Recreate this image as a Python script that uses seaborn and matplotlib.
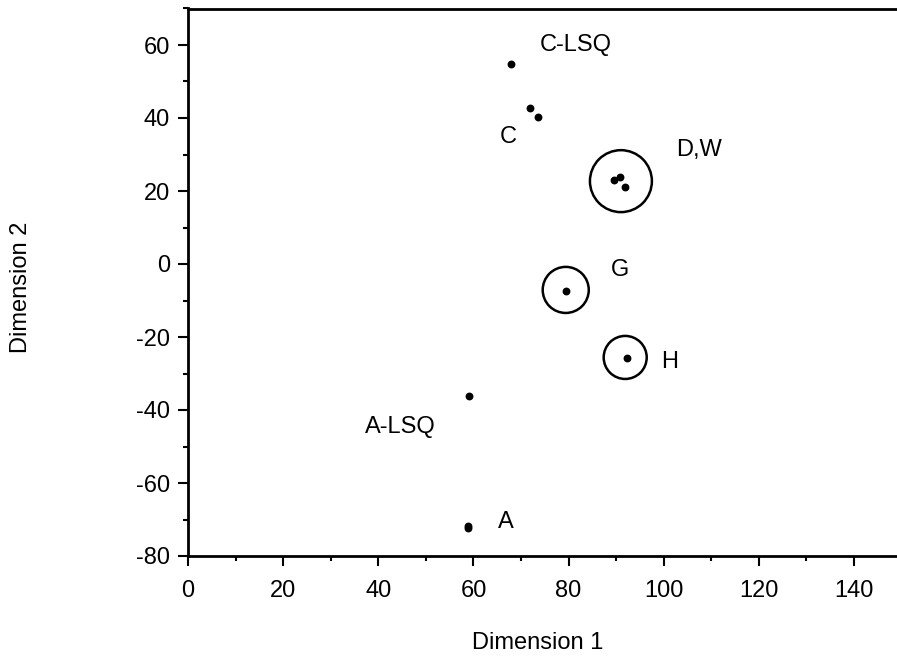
import numpy as np
import pandas as pd
import seaborn as sns
import matplotlib
matplotlib.use("Agg")
import matplotlib.pyplot as plt
from matplotlib.ticker import MultipleLocator

# Diem do (Dimension 1, Dimension 2)
dim1 = [68.0, 71.9, 73.6, 89.6, 90.8, 91.9, 79.4, 92.2, 59.1, 58.9, 58.9]
dim2 = [54.8, 42.8, 40.4, 23.0, 23.9, 21.2, -7.3, -25.8, -36.2, -71.8, -72.3]

# Vong tron bao quanh cac nhom
ring_x = [91.0, 79.4, 91.9]
ring_y = [22.7, -7.1, -25.6]
ring_size = [1990, 1100, 960]

# Nhan cua cac nhom
labels = ["C-LSQ", "C", "D,W", "G", "H", "A-LSQ", "A"]
label_x = [74.0, 65.6, 102.5, 88.9, 99.4, 37.2, 65.2]
label_y = [60.0, 34.8, 31.2, -1.6, -26.8, -44.6, -70.6]

x_ticks = [0, 20, 40, 60, 80, 100, 120, 140]
y_ticks = [-80, -60, -40, -20, 0, 20, 40, 60]

sns.set_style("ticks")
plt.rcParams["font.family"] = ["Liberation Sans", "DejaVu Sans"]
plt.rcParams["axes.unicode_minus"] = False
plt.rcParams["text.color"] = "black"
plt.rcParams["axes.labelcolor"] = "black"
plt.rcParams["xtick.color"] = "black"
plt.rcParams["ytick.color"] = "black"

points = pd.DataFrame({"dim1": dim1, "dim2": dim2})
rings = pd.DataFrame({"x": ring_x, "y": ring_y, "s": ring_size})

fig = plt.figure(figsize=(8.97, 6.63), dpi=100)
ax = fig.add_axes([188 / 897, 107 / 663, 713.6 / 897, 547.5 / 663])

sns.scatterplot(data=points, x="dim1", y="dim2", ax=ax, color="black",
                s=32, linewidth=0, legend=False)
ax.scatter(rings["x"], rings["y"], s=rings["s"], facecolors="none",
           edgecolors="black", linewidths=1.8)

for txt, lx, ly in zip(labels, label_x, label_y):
    ax.text(lx, ly, txt, fontsize=17, ha="left", va="center", color="black")

ax.set_xlim(0, 150)
ax.set_ylim(-80, 70)
ax.set_xticks(x_ticks)
ax.set_yticks(y_ticks)
ax.xaxis.set_minor_locator(MultipleLocator(10))
ax.yaxis.set_minor_locator(MultipleLocator(10))
ax.tick_params(which="major", length=7, width=1.5, labelsize=17, direction="out")
ax.tick_params(which="minor", length=3.5, width=1.5, direction="out")
ax.tick_params(axis="x", pad=10)
ax.tick_params(axis="y", pad=6)

for sp in ax.spines.values():
    sp.set_linewidth(2.0)
    sp.set_color("black")
ax.spines["right"].set_visible(False)

ax.set_xlabel("Dimension 1", fontsize=17)
ax.set_ylabel("Dimension 2", fontsize=17)
ax.xaxis.set_label_coords(0.49, -0.138)
ax.yaxis.set_label_coords(-0.218, 0.49)

fig.savefig("out.png", dpi=100)
